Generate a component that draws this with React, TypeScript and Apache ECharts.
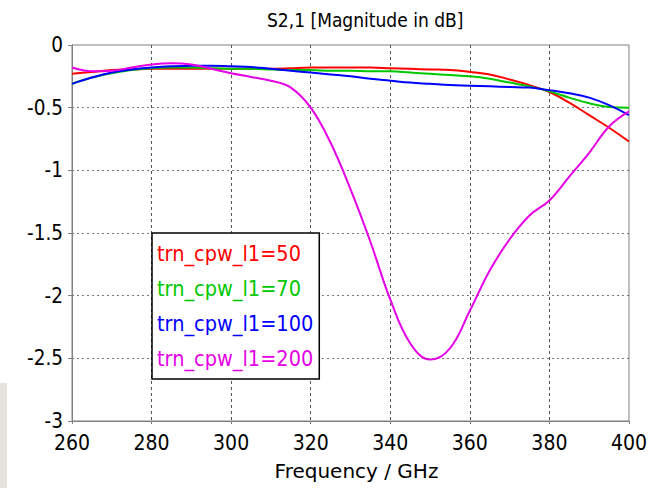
import React, { useEffect, useRef } from "react";
import * as echarts from "echarts";

const freqs = [260,265,270,275,280,285,290,295,300,305,310,315,320,325,330,335,340,345,350,355,360,365,370,375,380,385,390,395,400];

const seriesNames = ["trn_cpw_l1=50", "trn_cpw_l1=70", "trn_cpw_l1=100", "trn_cpw_l1=200"];
const seriesColors = ["#ff0000", "#00c800", "#0000ff", "#e600e6"];

const s50 = [-0.23,-0.215,-0.2,-0.195,-0.19,-0.19,-0.19,-0.19,-0.19,-0.19,-0.19,-0.185,-0.18,-0.18,-0.18,-0.18,-0.185,-0.19,-0.195,-0.2,-0.215,-0.235,-0.275,-0.32,-0.375,-0.46,-0.56,-0.66,-0.77];
const s70 = [-0.31,-0.26,-0.225,-0.2,-0.185,-0.18,-0.18,-0.185,-0.19,-0.19,-0.195,-0.2,-0.2,-0.205,-0.205,-0.21,-0.21,-0.22,-0.23,-0.24,-0.25,-0.27,-0.3,-0.33,-0.37,-0.42,-0.465,-0.495,-0.5];
const s100 = [-0.31,-0.26,-0.22,-0.195,-0.18,-0.17,-0.165,-0.165,-0.17,-0.175,-0.19,-0.205,-0.22,-0.235,-0.25,-0.27,-0.285,-0.3,-0.31,-0.32,-0.325,-0.33,-0.335,-0.34,-0.36,-0.385,-0.42,-0.48,-0.56];
const s200 = [-0.18,-0.21,-0.205,-0.18,-0.155,-0.145,-0.155,-0.19,-0.225,-0.255,-0.285,-0.34,-0.5,-0.78,-1.15,-1.57,-2.03,-2.38,-2.51,-2.42,-2.12,-1.8,-1.55,-1.36,-1.24,-1.05,-0.86,-0.65,-0.53];

const allValues = [s50, s70, s100, s200];

const titleText = "S2,1 [Magnitude in dB]";
const xAxisName = "Frequency / GHz";
const xMin = 260, xMax = 400, xStep = 20;
const yMin = -3, yMax = 0, yStep = 0.5;

const FONT = "'DejaVu Sans Condensed', 'DejaVu Sans', Tahoma, sans-serif";
const FONT_WIDE = "'DejaVu Sans', Tahoma, sans-serif";

export default function App() {
  const ref = useRef<HTMLDivElement>(null);
  useEffect(() => {
    if (!ref.current) return;
    const chart = echarts.init(ref.current, null, { renderer: "svg" });
    const option: any = {
      animation: false,
      backgroundColor: "#ffffff",
      title: {
        text: titleText,
        left: 262,
        top: 5,
        textStyle: { fontFamily: FONT, fontSize: 19, fontWeight: "normal", color: "#000" },
      },
      grid: {
        left: 72, right: 21, top: 45, bottom: 67,
        show: true, borderColor: "#808080", borderWidth: 1, backgroundColor: "#fff",
      },
      legend: {
        orient: "vertical",
        left: 152,
        top: 233,
        icon: "none",
        itemWidth: 0,
        itemHeight: 14,
        itemGap: 0,
        padding: [3, 6, 3, 0],
        backgroundColor: "#ffffff",
        borderColor: "#000000",
        borderWidth: 1.5,
        selectedMode: false,
        data: seriesNames.map((n, i) => ({
          name: n,
          textStyle: { color: seriesColors[i] },
        })),
        textStyle: { fontFamily: FONT, fontSize: 21.5, lineHeight: 35 },
      },
      xAxis: {
        type: "value",
        min: xMin, max: xMax, interval: xStep,
        name: xAxisName,
        nameLocation: "middle",
        nameGap: 40,
        nameTextStyle: { fontFamily: FONT_WIDE, fontSize: 20, color: "#000", padding: [0, 0, 0, 12] },
        axisLine: { show: true, onZero: false, lineStyle: { color: "#808080", width: 1 } },
        axisTick: { show: true, length: 3, inside: false, lineStyle: { color: "#808080" } },
        axisLabel: { fontFamily: FONT, fontSize: 21, color: "#000", margin: 11 },
        splitLine: { show: true, showMinLine: false, showMaxLine: false, lineStyle: { color: "#555", type: [3, 3], width: 1 } },
      },
      yAxis: {
        type: "value",
        min: yMin, max: yMax, interval: yStep,
        axisLine: { show: true, onZero: false, lineStyle: { color: "#808080", width: 1 } },
        axisTick: { show: true, length: 4, inside: false, lineStyle: { color: "#808080" } },
        axisLabel: { fontFamily: FONT, fontSize: 20.5, color: "#000", margin: 9 },
        splitLine: { show: true, showMinLine: false, showMaxLine: false, lineStyle: { color: "#777", type: [2, 3], width: 1 } },
      },
      series: seriesNames.map((n, i) => ({
        name: n,
        type: "line",
        data: freqs.map((f, j) => [f, allValues[i][j]]),
        showSymbol: false,
        smooth: 0.4,
        lineStyle: { color: seriesColors[i], width: 2 },
        itemStyle: { color: seriesColors[i] },
        z: 2 + i,
      })),
      graphic: [
        { type: "rect", left: 0, top: 383, shape: { width: 7, height: 105 }, style: { fill: "#e6e2dd" }, silent: true },
      ],
    };
    chart.setOption(option);
    return () => chart.dispose();
  }, []);
  return <div ref={ref} style={{ position: "fixed", left: 0, top: 0, width: 650, height: 488 }} />;
}
